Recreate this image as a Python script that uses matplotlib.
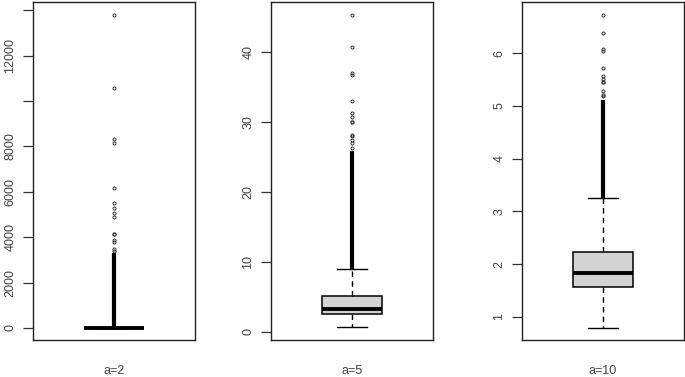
import matplotlib.pyplot as plt

plt.rcParams['font.family'] = ['Liberation Sans', 'DejaVu Sans']

# group labels
labels = ['a=2', 'a=5', 'a=10']

# box statistics
whislo = [1.0, 0.6, 0.79]
q1 = [1.2, 2.5, 1.57]
med = [1.5, 3.25, 1.83]
q3 = [2.2, 5.1, 2.23]
whishi = [4.0, 8.9, 3.25]

# dense run of outliers just above the upper whisker (drawn as a solid column)
dense_lo = [4.0, 8.9, 3.25]
dense_hi = [3300, 25.8, 5.12]

# sparse outliers above the dense run
fliers_a2 = [3400, 3500, 3790, 3870, 4140, 4160, 4890, 5060, 5280, 5500, 6170, 8140, 8320, 10590, 13790]
fliers_a5 = [26.2, 26.9, 27.4, 28.0, 28.1, 29.9, 30.0, 30.6, 31.2, 32.9, 36.7, 37.0, 40.7, 45.2]
fliers_a10 = [5.18, 5.2, 5.29, 5.45, 5.46, 5.51, 5.57, 5.72, 6.05, 6.07, 6.38, 6.72]
fliers = [fliers_a2, fliers_a5, fliers_a10]

# y ticks per panel
yticks = [[0, 2000, 4000, 6000, 8000, 10000, 12000, 14000],
          [0, 10, 20, 30, 40],
          [1, 2, 3, 4, 5, 6]]
yticklabels = [['0', '2000', '4000', '6000', '8000', '', '12000', ''],
               ['0', '10', '20', '30', '40'],
               ['1', '2', '3', '4', '5', '6']]
ylims = [(-530, 14360), (-1.2, 47.1), (0.56, 6.97)]

fig = plt.figure(figsize=(6.85, 3.77), dpi=100)
lefts = [33, 271, 522]
for i in range(3):
    ax = fig.add_axes([lefts[i] / 685, 37 / 377, 162 / 685, 338 / 377])
    stats = [dict(whislo=whislo[i], q1=q1[i], med=med[i], q3=q3[i],
                  whishi=whishi[i], fliers=fliers[i])]
    ax.bxp(stats, positions=[1], widths=0.4, capwidths=0.2, patch_artist=True,
           boxprops=dict(facecolor='#d3d3d3', edgecolor='black', linewidth=1.1),
           medianprops=dict(color='black', linewidth=2.8, solid_capstyle='butt'),
           whiskerprops=dict(color='black', linewidth=1.0, linestyle=(0, (4, 3))),
           capprops=dict(color='black', linewidth=1.0),
           flierprops=dict(marker='o', markersize=2.2, markerfacecolor='none',
                           markeredgecolor='#333333', markeredgewidth=0.7))
    ax.vlines(1, dense_lo[i], dense_hi[i], color='black', linewidth=3.0, zorder=4)
    ax.set_xlim(0.46, 1.54)
    ax.set_ylim(*ylims[i])
    ax.set_xticks([])
    ax.set_yticks(yticks[i])
    ax.set_yticklabels(yticklabels[i], rotation=90, va='center', fontsize=9, color='#444444')
    ax.tick_params(axis='y', length=7, width=0.9, pad=5, color='#333333')
    ax.set_xlabel(labels[i], fontsize=9, color='#444444', labelpad=18)
    for s in ax.spines.values():
        s.set_linewidth(1.0)
        s.set_color('#222222')

fig.savefig('out.png', dpi=100)
